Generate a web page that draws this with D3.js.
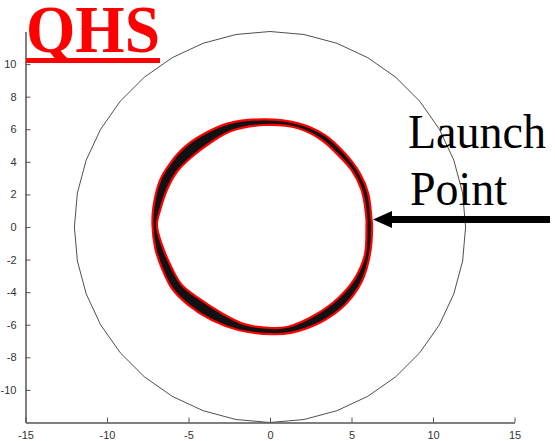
<!DOCTYPE html>
<html>
<head>
<meta charset="utf-8">
<script src="https://cdn.jsdelivr.net/npm/d3@7"></script>
<style>
  html, body { margin: 0; padding: 0; background: #fff; }
  svg { display: block; }
</style>
</head>
<body>
<svg id="chart" width="555" height="441"></svg>
<script>
// ---- data ----
const xTicks = [-15, -10, -5, 0, 5, 10, 15];
const yTicks = [-10, -8, -6, -4, -2, 0, 2, 4, 6, 8, 10];
const xDomain = [-15, 15];
const yDomain = [-12, 12];

// Reference (vessel) circle radius
const wallRadius = 12;
const wallSegments = 36;

// Outer edge of the traced flux-surface band
const ringOuterX = [6.23, 6.02, 5.51, 4.59, 3.37, 1.73, -0.31, -2.55, -3.98, -5.21, -6.12, -6.74, -7.15, -7.21, -7.04, -6.63, -6.02, -5.00, -3.57, -1.94, 0.10, 1.33, 3.17, 4.59, 5.62, 6.12, 6.26];
const ringOuterY = [0.43, 2.07, 3.29, 4.52, 5.64, 6.36, 6.61, 6.36, 5.75, 4.93, 3.91, 2.88, 1.25, 0.12, -1.31, -2.53, -3.76, -4.79, -5.71, -6.32, -6.58, -6.48, -5.81, -4.79, -3.36, -1.72, 0.12];
// Inner edge of the band
const ringInnerX = [5.92, 5.62, 5.00, 4.08, 3.17, 1.73, -0.31, -2.35, -3.57, -4.79, -5.71, -6.33, -6.74, -6.94, -6.63, -6.02, -5.41, -4.39, -2.96, -1.53, 0.10, 1.12, 2.76, 4.18, 5.21, 5.82, 5.92];
const ringInnerY = [0.43, 2.27, 3.50, 4.52, 5.34, 6.06, 6.26, 5.91, 5.23, 4.31, 3.39, 2.27, 1.04, 0.12, -1.10, -2.53, -3.56, -4.37, -5.29, -5.98, -6.20, -6.12, -5.40, -4.37, -3.15, -1.72, 0.12];

const title = "QHS";
const annotationLines = ["Launch", "Point"];

// ---- layout ----
const svg = d3.select("#chart");
const x = d3.scaleLinear().domain(xDomain).range([25.5, 514.5]);
const y = d3.scaleLinear().domain(yDomain).range([422.5, 31.5]);
const axisColor = "#555";

// outer wall circle (polygonal, like the original plot)
const wallPts = d3.range(wallSegments + 1).map(i => {
  const a = (i * 360 / wallSegments) * Math.PI / 180;
  return [wallRadius * Math.cos(a), wallRadius * Math.sin(a)];
});
svg.append("path")
  .attr("d", d3.line().x(d => x(d[0])).y(d => y(d[1]))(wallPts))
  .attr("fill", "none")
  .attr("stroke", "#222")
  .attr("stroke-width", 0.8);

// band
const outerPts = ringOuterX.map((v, i) => [v, ringOuterY[i]]);
const innerPts = ringInnerX.map((v, i) => [v, ringInnerY[i]]);
const closed = d3.line().x(d => x(d[0])).y(d => y(d[1])).curve(d3.curveCatmullRomClosed.alpha(0.5));
svg.append("path")
  .attr("d", closed(outerPts) + closed(innerPts))
  .attr("fill", "#111")
  .attr("fill-rule", "evenodd")
  .attr("stroke", "#ff0000")
  .attr("stroke-width", 2.2);

// axes
const fmt = d => String(d);
const gx = svg.append("g").attr("transform", `translate(0,${y(yDomain[0])})`)
  .call(d3.axisBottom(x).tickValues(xTicks).tickFormat(fmt).tickSizeInner(-5).tickSizeOuter(0).tickPadding(10));
const gy = svg.append("g").attr("transform", `translate(${x(xDomain[0])},0)`)
  .call(d3.axisLeft(y).tickValues(yTicks).tickFormat(fmt).tickSizeInner(-5).tickSizeOuter(0).tickPadding(9));
[gx, gy].forEach(g => {
  g.select(".domain").attr("stroke", axisColor).attr("stroke-width", 1.5);
  g.selectAll(".tick line").attr("stroke", axisColor);
  g.selectAll(".tick text").attr("fill", "#333")
    .style("font-family", "'Liberation Sans', Arial, sans-serif").style("font-size", "11px");
});
gx.selectAll(".tick text").attr("dy", "0.6em");

// title
svg.append("text")
  .attr("x", 26).attr("y", 52)
  .attr("textLength", 134).attr("lengthAdjust", "spacingAndGlyphs")
  .style("font-family", "'Liberation Serif', 'Times New Roman', serif")
  .style("font-weight", "bold").style("font-size", "68px")
  .attr("fill", "#ff0000")
  .text(title);
svg.append("rect").attr("x", 26).attr("y", 58).attr("width", 134).attr("height", 5).attr("fill", "#ff0000");

// annotation
const annY = [148, 205];
const annW = [138, 97];
annotationLines.forEach((t, i) => {
  svg.append("text")
    .attr("x", 408 + (i ? 2 : 0)).attr("y", annY[i])
    .attr("textLength", annW[i]).attr("lengthAdjust", "spacingAndGlyphs")
    .style("font-family", "'Liberation Serif', 'Times New Roman', serif")
    .style("font-size", "49px").attr("fill", "#000")
    .text(t);
});
// arrow
svg.append("line").attr("x1", 390).attr("x2", 550).attr("y1", 219.5).attr("y2", 219.5)
  .attr("stroke", "#000").attr("stroke-width", 7);
svg.append("path").attr("d", "M373,219.5 L392,211 L392,228 Z").attr("fill", "#000");
</script>
</body>
</html>
